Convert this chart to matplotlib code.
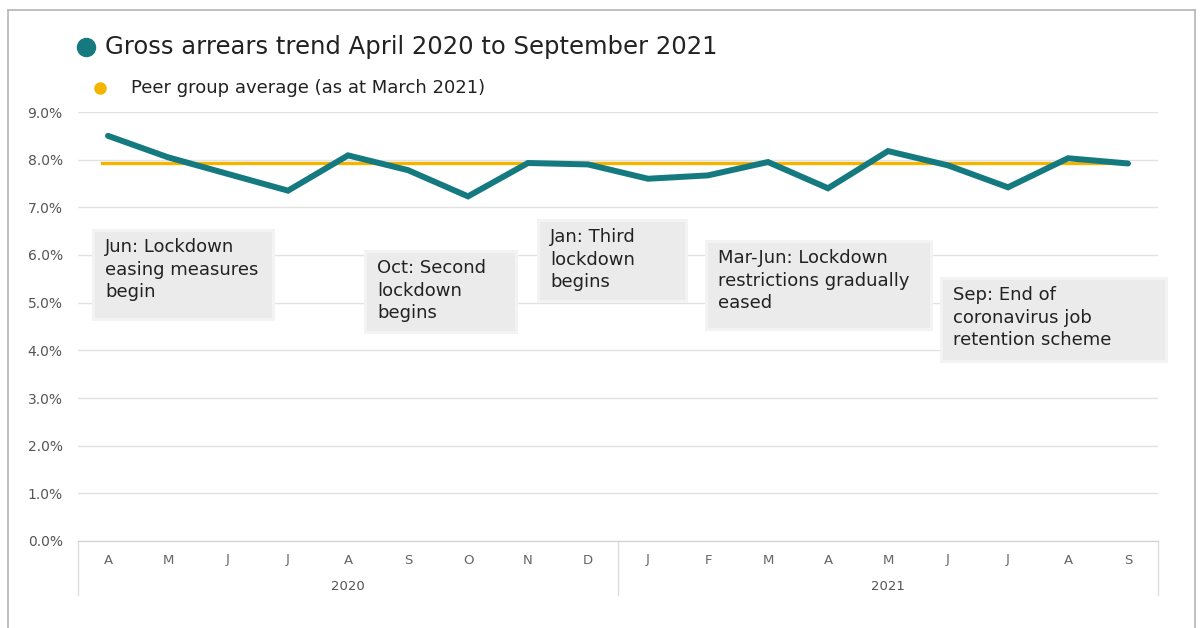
import matplotlib
matplotlib.use("Agg")
import matplotlib.pyplot as plt
from matplotlib.patches import Rectangle
from matplotlib.lines import Line2D
from matplotlib.ticker import FuncFormatter
import matplotlib.transforms as mtransforms

# ---- data ----
months = ["A", "M", "J", "J", "A", "S", "O", "N", "D",
          "J", "F", "M", "A", "M", "J", "J", "A", "S"]
years = ["2020", "2021"]
year_counts = [9, 9]
arrears = [8.50, 8.05, 7.70, 7.35, 8.09, 7.78, 7.23, 7.93, 7.90,
           7.60, 7.67, 7.95, 7.40, 8.18, 7.88, 7.42, 8.03, 7.92]
peer_avg = 7.93
y_ticks = [0, 1, 2, 3, 4, 5, 6, 7, 8, 9]
title = "Gross arrears trend April 2020 to September 2021"
peer_label = "Peer group average (as at March 2021)"
annotations = [
    "Jun: Lockdown\neasing measures\nbegin",
    "Oct: Second\nlockdown\nbegins",
    "Jan: Third\nlockdown\nbegins",
    "Mar-Jun: Lockdown\nrestrictions gradually\neased",
    "Sep: End of\ncoronavirus job\nretention scheme",
]

TEAL = "#157a80"
GOLD = "#f4b400"
plt.rcParams["font.family"] = ["DejaVu Sans"]

W, H = 1202, 628
fig = plt.figure(figsize=(W / 100, H / 100), dpi=100)
fig.patch.set_facecolor("white")

def fx(px):
    return px / W

def fy(py):
    return 1 - py / H

# outer frame
for (x0, y0, x1, y1) in [(8, 10, 8, 628), (8, 10, 1195, 10), (1195, 10, 1195, 628)]:
    fig.add_artist(Line2D([fx(x0), fx(x1)], [fy(y0), fy(y1)], color="#b5b5b5", lw=1.2,
                          transform=fig.transFigure))

ax = fig.add_axes([fx(78), fy(541), fx(1158) - fx(78), fy(112) - fy(541)])
n = len(months)
xs = list(range(n))
ax.set_xlim(-0.5, n - 0.5)
ax.set_ylim(0, 9)
ax.set_yticks(y_ticks)
ax.yaxis.set_major_formatter(FuncFormatter(lambda v, p: f"{v:.1f}%"))
ax.grid(axis="y", color="#e2e2e2", lw=1)
ax.set_axisbelow(True)
for s in ["top", "right", "left"]:
    ax.spines[s].set_visible(False)
ax.spines["bottom"].set_color("#d0d0d0")
ax.tick_params(axis="y", length=0, pad=11, labelsize=10, labelcolor="#555555")
ax.set_xticks(xs)
ax.set_xticklabels(months)
ax.tick_params(axis="x", length=0, pad=9, labelsize=9.5, labelcolor="#666666")

# peer line and arrears line
ax.plot([-0.1, n - 1], [peer_avg, peer_avg], color=GOLD, lw=2.4, zorder=2)
ax.plot(xs, arrears, color=TEAL, lw=4.3, solid_joinstyle="miter", solid_capstyle="round", zorder=3)

# year labels and separators
trans = mtransforms.blended_transform_factory(ax.transData, ax.transAxes)
start = 0
for yr, cnt in zip(years, year_counts):
    center = start + (cnt - 1) / 2
    ax.text(center, -0.107, yr, transform=trans, ha="center", va="center",
            fontsize=9.5, color="#555555")
    start += cnt
bounds = [-0.5]
acc = -0.5
for cnt in year_counts:
    acc += cnt
    bounds.append(acc)
for b in bounds:
    ax.plot([b, b], [0, -0.125], transform=trans, color="#dddddd", lw=1, clip_on=False)

# annotation boxes (pixel layout)
boxes = [(95, 232, 272, 318), (367, 253, 515, 331), (540, 222, 685, 300),
         (708, 243, 930, 328), (943, 280, 1165, 360)]
for (x0, y0, x1, y1), txt in zip(boxes, annotations):
    fig.add_artist(Rectangle((fx(x0 - 3), fy(y1 + 3)), fx(x1 + 3) - fx(x0 - 3), fy(y0 - 3) - fy(y1 + 3),
                             transform=fig.transFigure, facecolor="#f3f3f3", edgecolor="none", zorder=4))
    fig.add_artist(Rectangle((fx(x0), fy(y1)), fx(x1) - fx(x0), fy(y0) - fy(y1),
                             transform=fig.transFigure, facecolor="#ebebeb", edgecolor="none", zorder=5))
    fig.text(fx(x0 + 10), fy(y0 + 6), txt, ha="left", va="top", fontsize=13,
             color="#222222", linespacing=1.33, zorder=6)

# legend / title
fig.add_artist(Line2D([fx(86)], [fy(47)], marker="o", markersize=13, color=TEAL,
                      transform=fig.transFigure, linestyle="none"))
fig.text(fx(105), fy(47), title, ha="left", va="center", fontsize=17.5, color="#222222")
fig.add_artist(Line2D([fx(100)], [fy(88)], marker="o", markersize=8, color=GOLD,
                      transform=fig.transFigure, linestyle="none"))
fig.text(fx(131), fy(88), peer_label, ha="left", va="center", fontsize=13, color="#222222")

fig.savefig("out.png", dpi=100, facecolor="white")
